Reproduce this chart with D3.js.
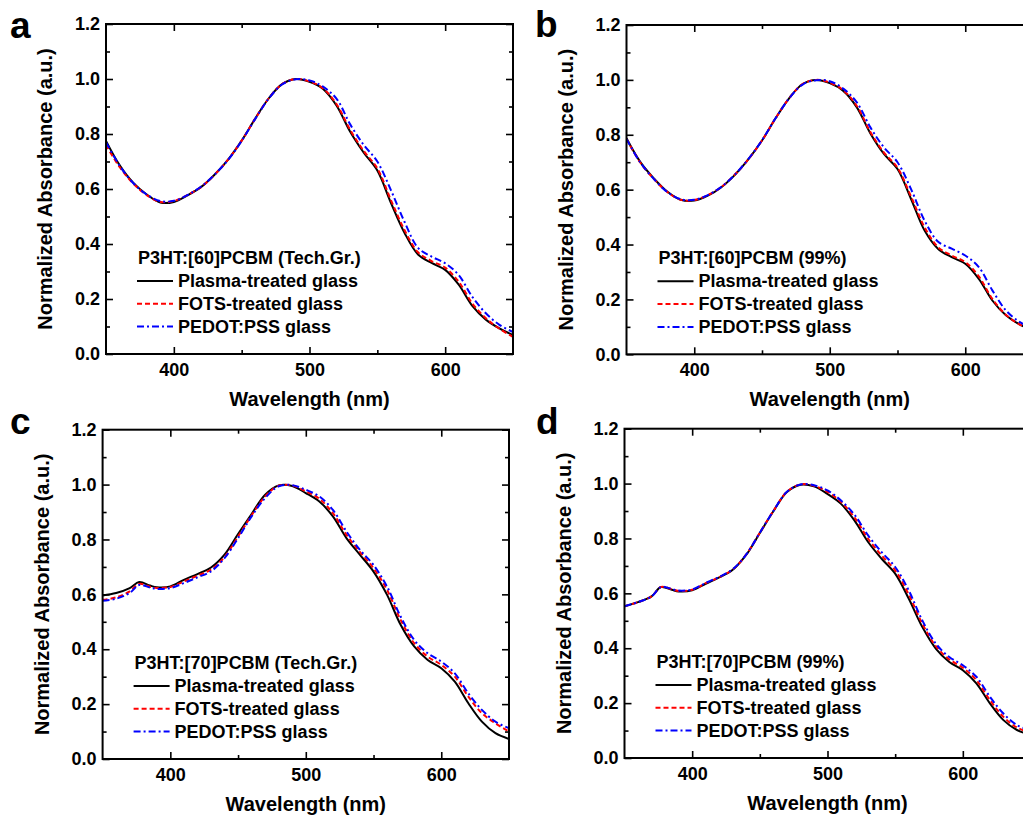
<!DOCTYPE html>
<html>
<head>
<meta charset="utf-8">
<script src="https://cdn.jsdelivr.net/npm/d3@7/dist/d3.min.js"></script>
<style>
body { margin: 0; background: #fff; }
text { font-family: Arial, "Liberation Sans", sans-serif; font-weight: bold; fill: #000; }
</style>
</head>
<body>
<div id="chart"></div>
<script>
// wavelengths (nm)
var wlAB = [350,360,370,380,390,400,410,420,430,440,450,460,470,480,490,500,510,520,530,540,550,560,570,580,590,600,610,620,630,640,650];
var wlCD = [350,360,370,377,385,390,400,410,420,430,440,450,460,470,480,490,500,510,520,530,540,550,560,570,580,590,600,610,620,630,640,650];

// a: P3HT:[60]PCBM (Tech.Gr.)
var aPlasma = [0.775,0.687,0.623,0.580,0.551,0.553,0.577,0.607,0.652,0.707,0.776,0.856,0.930,0.982,1.000,0.990,0.964,0.903,0.808,0.732,0.667,0.550,0.441,0.362,0.331,0.306,0.252,0.175,0.125,0.093,0.069];
var aFots   = [0.760,0.680,0.620,0.578,0.553,0.556,0.578,0.607,0.652,0.707,0.776,0.856,0.930,0.982,1.000,0.991,0.966,0.908,0.815,0.738,0.675,0.560,0.451,0.370,0.338,0.314,0.263,0.184,0.130,0.092,0.062];
var aPedot  = [0.770,0.685,0.622,0.580,0.556,0.557,0.578,0.608,0.652,0.706,0.775,0.855,0.929,0.981,0.999,0.995,0.972,0.928,0.835,0.760,0.700,0.596,0.481,0.386,0.354,0.330,0.287,0.208,0.148,0.106,0.080];

// b: P3HT:[60]PCBM (99%)
var bPlasma = [0.787,0.702,0.642,0.593,0.563,0.560,0.578,0.609,0.654,0.711,0.779,0.860,0.933,0.985,1.000,0.988,0.960,0.900,0.805,0.730,0.675,0.566,0.451,0.384,0.354,0.330,0.275,0.196,0.142,0.109,0.088];
var bFots   = [0.785,0.700,0.640,0.592,0.563,0.562,0.580,0.610,0.655,0.711,0.779,0.860,0.933,0.985,1.000,0.990,0.962,0.905,0.810,0.735,0.680,0.575,0.463,0.390,0.360,0.336,0.284,0.202,0.144,0.109,0.088];
var bPedot  = [0.785,0.700,0.640,0.592,0.565,0.563,0.580,0.610,0.655,0.712,0.780,0.860,0.932,0.983,0.999,0.995,0.968,0.918,0.827,0.754,0.700,0.602,0.487,0.410,0.385,0.360,0.318,0.233,0.160,0.118,0.095];

// c: P3HT:[70]PCBM (Tech.Gr.)
var cPlasma = [0.596,0.605,0.623,0.645,0.632,0.626,0.629,0.653,0.674,0.698,0.745,0.820,0.893,0.963,0.997,0.995,0.969,0.938,0.884,0.805,0.744,0.683,0.598,0.489,0.410,0.361,0.331,0.282,0.203,0.136,0.094,0.073];
var cFots   = [0.580,0.589,0.611,0.638,0.628,0.623,0.627,0.647,0.668,0.690,0.736,0.811,0.888,0.957,0.996,0.997,0.975,0.948,0.896,0.817,0.754,0.695,0.616,0.507,0.422,0.373,0.343,0.300,0.227,0.167,0.130,0.100];
var cPedot  = [0.577,0.584,0.605,0.634,0.625,0.620,0.623,0.641,0.662,0.684,0.732,0.805,0.884,0.951,0.994,0.998,0.981,0.957,0.908,0.829,0.762,0.707,0.628,0.519,0.434,0.385,0.355,0.312,0.239,0.179,0.136,0.112];

// d: P3HT:[70]PCBM (99%)
var dPlasma = [0.553,0.568,0.589,0.623,0.613,0.607,0.611,0.635,0.658,0.686,0.741,0.820,0.899,0.969,0.996,0.990,0.962,0.926,0.865,0.787,0.726,0.672,0.581,0.478,0.399,0.350,0.320,0.272,0.199,0.138,0.102,0.085];
var dFots   = [0.553,0.568,0.589,0.623,0.615,0.609,0.613,0.637,0.659,0.687,0.742,0.821,0.900,0.970,0.997,0.992,0.970,0.933,0.876,0.799,0.738,0.684,0.596,0.490,0.408,0.359,0.329,0.284,0.211,0.150,0.111,0.092];
var dPedot  = [0.553,0.568,0.589,0.623,0.616,0.610,0.614,0.638,0.660,0.688,0.742,0.821,0.900,0.970,0.997,0.994,0.975,0.938,0.886,0.811,0.750,0.696,0.611,0.502,0.417,0.368,0.338,0.296,0.223,0.162,0.120,0.100];

var yTicks = [0, 0.2, 0.4, 0.6, 0.8, 1.0, 1.2];
var yMinor = [0.1, 0.3, 0.5, 0.7, 0.9, 1.1];
var xTicks = [400, 500, 600];
var xMinor = [450, 550];
var seriesNames = ["Plasma-treated glass", "FOTS-treated glass", "PEDOT:PSS glass"];
var panelLetters = ["a", "b", "c", "d"];
var panelTitles = ["P3HT:[60]PCBM (Tech.Gr.)", "P3HT:[60]PCBM (99%)", "P3HT:[70]PCBM (Tech.Gr.)", "P3HT:[70]PCBM (99%)"];

var width = 1023, height = 816;

var svg = d3.select("#chart").append("svg")
    .attr("width", width)
    .attr("height", height);

// pixel boxes of the four plots (b and d run a little past the right edge)
var boxes = [
    { left: 106,   top: 24,    right: 513,    bottom: 354,   lx: 10,  ly: 38 },
    { left: 626.5, top: 25,    right: 1033,   bottom: 354.3, lx: 535, ly: 37 },
    { left: 102.6, top: 429.7, right: 509,    bottom: 759,   lx: 10,  ly: 434 },
    { left: 624.5, top: 428.7, right: 1030.5, bottom: 758,   lx: 536, ly: 434 }
];

var styles = [
    { color: "#000000", dash: null },
    { color: "#ff0000", dash: "5,3" },
    { color: "#0000ff", dash: "7,3,2,3" }
];

var panels = [
    { wl: wlAB, series: [aPlasma, aFots, aPedot] },
    { wl: wlAB, series: [bPlasma, bFots, bPedot] },
    { wl: wlCD, series: [cPlasma, cFots, cPedot] },
    { wl: wlCD, series: [dPlasma, dFots, dPedot] }
];

panels.forEach(function(p, i) {
    var b = boxes[i];
    var w = b.right - b.left, h = b.bottom - b.top;

    var x = d3.scaleLinear().domain([350, 650]).range([0, w]);
    var y = d3.scaleLinear().domain([0, 1.2]).range([h, 0]);

    // panel letter
    svg.append("text")
        .attr("x", b.lx)
        .attr("y", b.ly)
        .style("font-size", "37px")
        .text(panelLetters[i]);

    var g = svg.append("g").attr("transform", "translate(" + b.left + "," + b.top + ")");

    g.append("clipPath").attr("id", "clip" + i)
        .append("rect").attr("width", w).attr("height", h);

    // curves
    var line = d3.line()
        .x(function(d) { return x(d[0]); })
        .y(function(d) { return y(d[1]); })
        .curve(d3.curveCatmullRom.alpha(0.5));

    p.series.forEach(function(vals, k) {
        var pts = p.wl.map(function(wv, j) { return [wv, vals[j]]; });
        g.append("path")
            .attr("d", line(pts))
            .attr("clip-path", "url(#clip" + i + ")")
            .style("fill", "none")
            .style("stroke", styles[k].color)
            .style("stroke-width", 2)
            .style("stroke-dasharray", styles[k].dash);
    });

    // axes, ticks pointing inward on all four sides
    function styleAxis(sel, fs) {
        sel.select(".domain").remove();
        sel.selectAll("line").style("stroke", "#000").style("stroke-width", 1.6);
        sel.selectAll("text").style("font-size", fs).style("font-family", "Arial, 'Liberation Sans', sans-serif").style("font-weight", "bold").attr("fill", "#000");
    }

    g.append("g").attr("transform", "translate(0," + h + ")")
        .call(d3.axisBottom(x).tickValues(xTicks).tickSize(-7).tickPadding(9).tickFormat(d3.format("d")))
        .call(styleAxis, "18px");
    g.append("g").attr("transform", "translate(0," + h + ")")
        .call(d3.axisBottom(x).tickValues(xMinor).tickSize(-4).tickFormat(""))
        .call(styleAxis, "18px");
    g.append("g")
        .call(d3.axisTop(x).tickValues(xTicks).tickSize(-7).tickFormat(""))
        .call(styleAxis, "18px");
    g.append("g")
        .call(d3.axisTop(x).tickValues(xMinor).tickSize(-4).tickFormat(""))
        .call(styleAxis, "18px");

    g.append("g")
        .call(d3.axisLeft(y).tickValues(yTicks).tickSize(-7).tickPadding(6).tickFormat(d3.format(".1f")))
        .call(styleAxis, "18px");
    g.append("g")
        .call(d3.axisLeft(y).tickValues(yMinor).tickSize(-4).tickFormat(""))
        .call(styleAxis, "18px");
    g.append("g").attr("transform", "translate(" + w + ",0)")
        .call(d3.axisRight(y).tickValues(yTicks).tickSize(-7).tickFormat(""))
        .call(styleAxis, "18px");
    g.append("g").attr("transform", "translate(" + w + ",0)")
        .call(d3.axisRight(y).tickValues(yMinor).tickSize(-4).tickFormat(""))
        .call(styleAxis, "18px");

    // frame
    g.append("rect")
        .attr("width", w)
        .attr("height", h)
        .style("fill", "none")
        .style("stroke", "#000")
        .style("stroke-width", 2);

    // axis titles
    g.append("text")
        .attr("x", x(500))
        .attr("y", h + 52)
        .attr("text-anchor", "middle")
        .style("font-size", "20px")
        .text("Wavelength (nm)");

    g.append("text")
        .attr("transform", "translate(-54," + (h / 2) + ") rotate(-90)")
        .attr("text-anchor", "middle")
        .style("font-size", "20px")
        .text("Normalized Absorbance (a.u.)");

    // legend
    var lg = g.append("g").attr("transform", "translate(31," + (h - 90) + ")");
    lg.append("text")
        .attr("x", 1)
        .attr("y", 0)
        .style("font-size", "18px")
        .text(panelTitles[i]);

    seriesNames.forEach(function(name, k) {
        var yy = 23 + k * 22.8;
        lg.append("line")
            .attr("x1", 0).attr("x2", 36)
            .attr("y1", yy - 6).attr("y2", yy - 6)
            .style("stroke", styles[k].color)
            .style("stroke-width", 2)
            .style("stroke-dasharray", styles[k].dash);
        lg.append("text")
            .attr("x", 41)
            .attr("y", yy)
            .style("font-size", "18px")
            .text(name);
    });
});
</script>
</body>
</html>
